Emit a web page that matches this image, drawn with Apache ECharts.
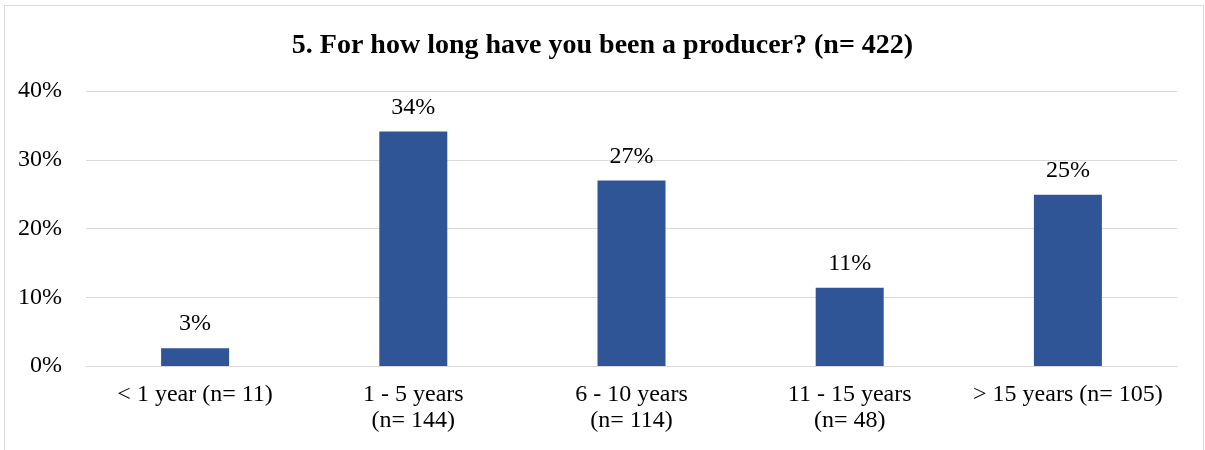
<!DOCTYPE html>
<html>
<head>
<meta charset="utf-8">
<script src="https://cdn.jsdelivr.net/npm/echarts@6/dist/echarts.min.js"></script>
<style>
  html, body { margin: 0; padding: 0; background: #fff; }
  #chart { width: 1205px; height: 450px; }
</style>
</head>
<body>
<div id="chart"></div>
<script>
// Survey question 5: years as a producer, share of respondents (n = 422)
const categories = [
  '< 1 year (n= 11)',
  '1 - 5 years\n(n= 144)',
  '6 - 10 years\n(n= 114)',
  '11 - 15 years\n(n= 48)',
  '> 15 years (n= 105)'
];
const percentages = [2.6, 34.1, 27.0, 11.4, 24.9];
const yTicks = [0, 10, 20, 30, 40];

const serif = '"Liberation Serif", "Times New Roman", serif';
const chart = echarts.init(document.getElementById('chart'));

chart.setOption({
  animation: false,
  backgroundColor: '#ffffff',
  graphic: [{
    type: 'rect',
    shape: { x: 4.5, y: 5.5, width: 1199, height: 470 },
    style: { fill: 'none', stroke: '#d9d9d9', lineWidth: 1 },
    silent: true
  }],
  title: {
    text: '5. For how long have you been a producer? (n= 422)',
    left: 'center',
    top: 27,
    textStyle: { fontFamily: serif, fontSize: 28, fontWeight: 'bold', color: '#000' }
  },
  grid: { left: 86, right: 28, top: 91, bottom: 84, containLabel: false },
  xAxis: {
    type: 'category',
    data: categories,
    axisLine: { show: true, lineStyle: { color: '#d9d9d9', width: 1 } },
    axisTick: { show: false },
    axisLabel: {
      interval: 0,
      margin: 16,
      fontFamily: serif,
      fontSize: 24,
      color: '#000',
      lineHeight: 26
    }
  },
  yAxis: {
    type: 'value',
    min: yTicks[0],
    max: yTicks[yTicks.length - 1],
    interval: 10,
    axisLine: { show: false },
    axisTick: { show: false },
    splitLine: { lineStyle: { color: '#d9d9d9', width: 1 } },
    axisLabel: {
      margin: 24,
      fontFamily: serif,
      fontSize: 24,
      color: '#000',
      formatter: v => v + '%'
    }
  },
  series: [{
    type: 'bar',
    data: percentages,
    barWidth: 68,
    itemStyle: { color: '#2f5597' },
    label: {
      show: true,
      position: 'top',
      distance: 12,
      fontFamily: serif,
      fontSize: 24,
      color: '#000',
      formatter: p => Math.round(p.value) + '%'
    }
  }]
});
</script>
</body>
</html>
